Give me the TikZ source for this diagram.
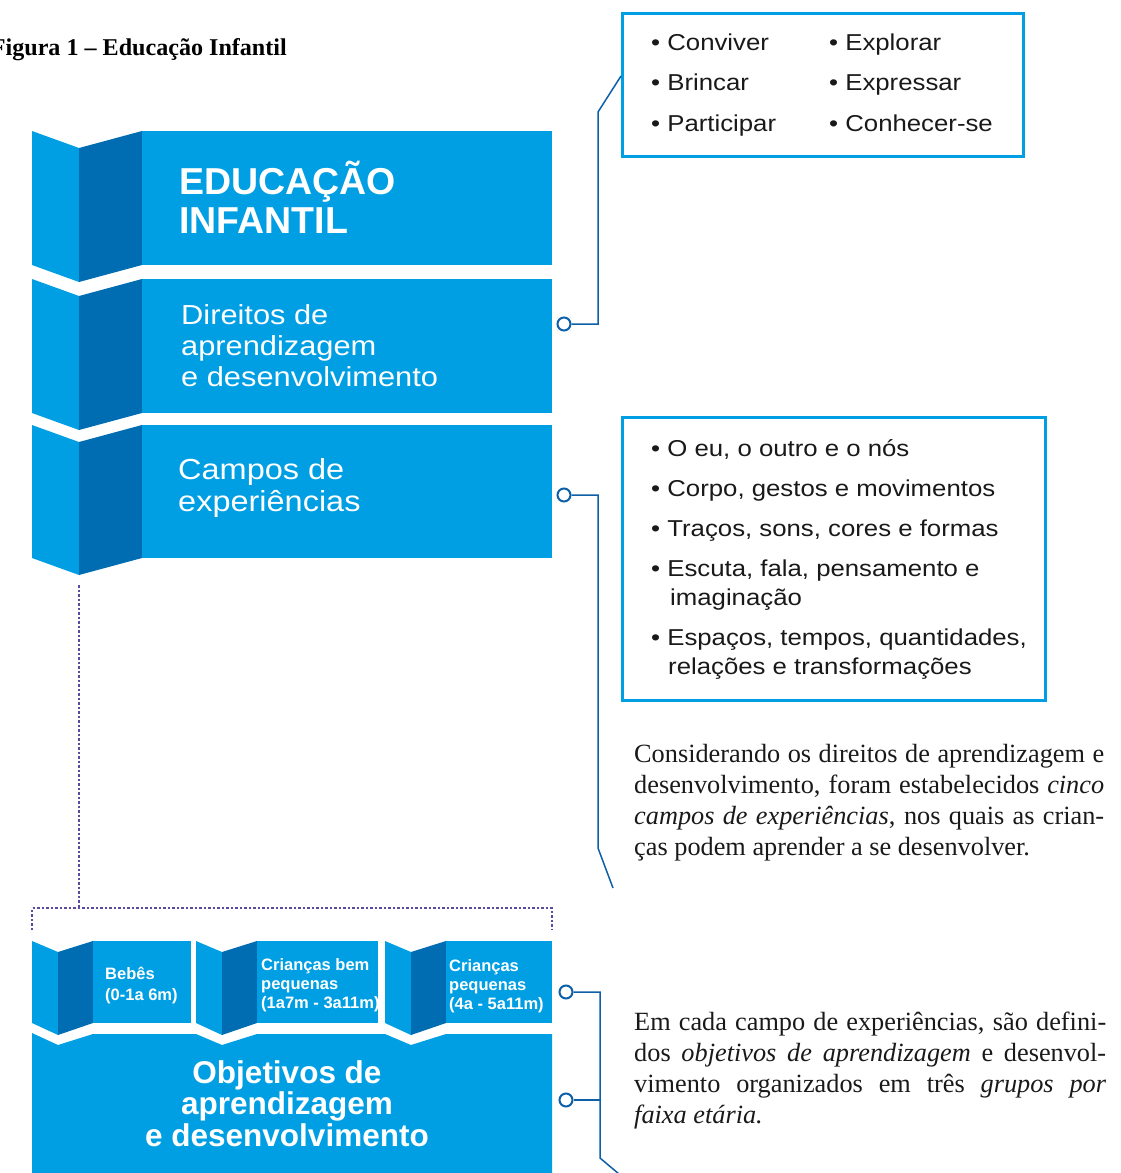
\documentclass[tikz,border=0pt]{standalone}
\usepackage{fontspec}
\setmainfont{Liberation Serif}
\setsansfont{Liberation Sans}
\newfontfamily\widesans[FakeStretch=1.12]{Liberation Sans}
\usepackage{tikz}
\usetikzlibrary{arrows,arrows.meta}
\usetikzlibrary{positioning}
\definecolor{LightBlue}{HTML}{009FE3}
\definecolor{DarkBlue}{HTML}{006DB3}
\definecolor{LineBlue}{HTML}{0D5FA8}
\definecolor{DotViolet}{HTML}{5B4A9E}

\begin{document}
\begin{tikzpicture}[x=1pt, y=-1pt,
		conn/.style={LineBlue, line width=1.5pt},
		knob/.style={circle, draw=LineBlue, fill=white, line width=2pt, inner sep=0pt, minimum size=13pt},
		listbox/.style={draw=LightBlue, line width=3pt, anchor=north west, inner sep=0pt},
		bandtext/.style={text=white, anchor=base west, inner sep=0pt, align=left},
		item/.style={anchor=base west, inner sep=0pt, text=black!90, font=\widesans\fontsize{23}{26}\selectfont},
		para/.style={anchor=base west, inner sep=0pt, text=black!90, font=\fontsize{26.3}{31}\selectfont},
		dots/.style={DotViolet, line width=1.5pt, dash pattern=on 2.5pt off 2pt}]
		\useasboundingbox (0,0) rectangle (1120,1173);
		\node[anchor=base east, inner sep=0pt, font=\bfseries\fontsize{24.1}{28}\selectfont] (title) at (287,55) {Figura 1 – Educação Infantil};
		\foreach \ya/\yb in {131/265, 279/413, 425/558} {
			\fill[LightBlue] (32,\ya) -- (79,\ya+17) -- (79,\yb+17) -- (32,\yb) -- cycle;
			\fill[DarkBlue] (79,\ya+17) -- (142,\ya) -- (142,\yb) -- (79,\yb+17) -- cycle;
			\fill[LightBlue] (142,\ya) rectangle (552,\yb);
		}
		\node[bandtext, font=\sffamily\bfseries\fontsize{37.5}{39}\selectfont] (edu) at (179,233) {EDUCAÇÃO\\INFANTIL};
		\node[bandtext, font=\widesans\fontsize{27.5}{31}\selectfont] (dir) at (181,386) {Direitos de\\aprendizagem\\e desenvolvimento};
		\node[bandtext, font=\widesans\fontsize{29}{32}\selectfont] (campos) at (178,511) {Campos de\\experiências};
		\draw[dots] (79,585) -- (79,908);
		\draw[dots] (32,930) -- (32,908) -- (552,908) -- (552,930);
		\foreach \xa/\xb/\xc/\xd in {32/58/93/191, 196/222/257/378, 385/411/446/552} {
			\fill[LightBlue] (\xa,941) -- (\xb,952) -- (\xb,1035) -- (\xa,1023) -- cycle;
			\fill[DarkBlue] (\xb,952) -- (\xc,941) -- (\xc,1023) -- (\xb,1035) -- cycle;
			\fill[LightBlue] (\xc,941) rectangle (\xd,1023);
		}
		\fill[LightBlue] (32,1033) -- (58,1045) -- (93,1034) -- (196,1034) -- (222,1045) -- (257,1034) -- (385,1034) -- (411,1045) -- (446,1034) -- (552,1034) -- (552,1173) -- (32,1173) -- cycle;
		\node[bandtext, font=\sffamily\bfseries\fontsize{16.5}{21}\selectfont] (bebes) at (105,1000) {Bebês\\(0-1a 6m)};
		\node[bandtext, font=\sffamily\bfseries\fontsize{16.5}{19}\selectfont] (bem) at (261,1008) {Crianças bem\\pequenas\\(1a7m - 3a11m)};
		\node[bandtext, font=\sffamily\bfseries\fontsize{16.5}{19}\selectfont] (peq) at (449,1009) {Crianças\\pequenas\\(4a - 5a11m)};
		\node[text=white, inner sep=0pt, anchor=base, align=center, font=\sffamily\bfseries\fontsize{31.5}{31.5}\selectfont] (obj) at (287,1146) {Objetivos de\\aprendizagem\\e desenvolvimento};
		\node[listbox, minimum width=401pt, minimum height=143pt] (b1) at (621,12) {};
		\node[item] (i1) at (651,50) {• Conviver};
		\node[item] (i2) at (651,90) {• Brincar};
		\node[item] (i3) at (651,131) {• Participar};
		\node[item] (i4) at (829,50) {• Explorar};
		\node[item] (i5) at (829,90) {• Expressar};
		\node[item] (i6) at (829,131) {• Conhecer-se};
		\node[listbox, minimum width=423pt, minimum height=283pt] (b2) at (621,416) {};
		\node[item] (j1) at (651,456) {• O eu, o outro e o nós};
		\node[item] (j2) at (651,496) {• Corpo, gestos e movimentos};
		\node[item] (j3) at (651,536) {• Traços, sons, cores e formas};
		\node[item] (j4) at (651,576) {• Escuta, fala, pensamento e};
		\node[item] (j4b) at (670,605) {imaginação};
		\node[item] (j5) at (651,645) {• Espaços, tempos, quantidades,};
		\node[item] (j5b) at (668,674) {relações e transformações};
		\node[para] (p1) at (634,762) {\makebox[470pt][s]{Considerando os direitos de aprendizagem e}};
		\node[para] (p2) at (634,793) {\makebox[470pt][s]{desenvolvimento, foram estabelecidos \textit{cinco}}};
		\node[para] (p3) at (634,824) {\makebox[470pt][s]{\textit{campos de experiências}, nos quais as crian-}};
		\node[para] (p4) at (634,855) {ças podem aprender a se desenvolver.};
		\node[para] (q1) at (634,1030) {\makebox[472pt][s]{Em cada campo de experiências, são defini-}};
		\node[para] (q2) at (634,1061) {\makebox[472pt][s]{dos \textit{objetivos de aprendizagem} e desenvol-}};
		\node[para] (q3) at (634,1092) {\makebox[472pt][s]{vimento organizados em três \textit{grupos por}}};
		\node[para] (q4) at (634,1123) {\textit{faixa etária.}};
		\node[knob] (c1) at (564,324) {};
		\node[knob] (c2) at (564,495) {};
		\node[knob] (c3) at (566,992) {};
		\node[knob] (c4) at (566,1100) {};
		\coordinate (tail2) at (613,888);
		\coordinate (tail3) at (619,1174);
		\draw[conn] (c1) -- (598,324) -- (598,112) -- (b1.west |- 0,76);
		\draw[conn] (c2) -- (598,495) -- (598,848) -- (tail2);
		\draw[conn] (c3) -- (600,992) -- (600,1158) -- (tail3);
		\draw[conn] (c4) -- (600,1100);
		\end{tikzpicture}
\end{document}
